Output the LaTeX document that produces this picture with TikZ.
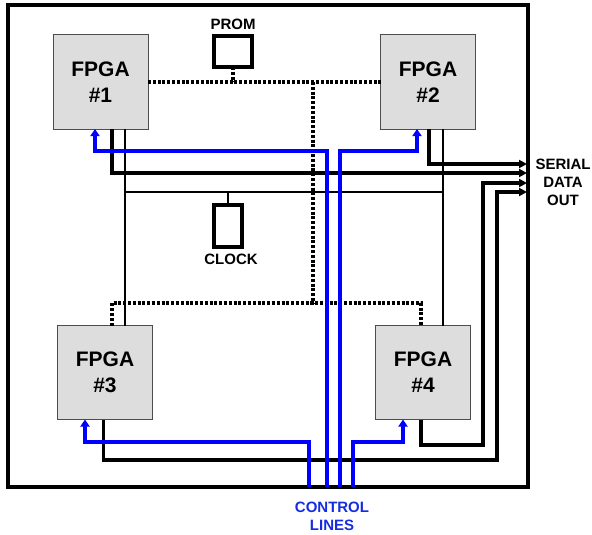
\documentclass[tikz,border=0pt]{standalone}
\usepackage{fontspec}
\setmainfont{Liberation Sans}
\usepackage{xcolor}
\usetikzlibrary{
    arrows.meta,
    positioning,
    calc
}
\definecolor{fpgagray}{RGB}{221, 221, 221}
\definecolor{ctrlblue}{RGB}{0, 0, 255}
\definecolor{textblue}{RGB}{20, 45, 225}

\begin{document}
\begin{tikzpicture}[
        x=1pt, y=-1pt,
        fpga/.style={draw=black!70, line width=1pt, fill=fpgagray, minimum width=95pt, minimum height=94pt, inner sep=0pt, outer sep=0pt, align=center, font=\fontsize{21}{26}\selectfont\bfseries},
        part/.style={draw, line width=3.2pt, fill=white, inner sep=0pt, outer sep=0pt},
        tag/.style={align=center, font=\fontsize{15}{18}\selectfont\bfseries},
        wire/.style={line width=2.8pt},
        bus/.style={line width=3.2pt, dash pattern=on 3pt off 1.8pt},
        dataout/.style={line width=3.3pt, -{Triangle[length=8pt, width=8pt]}},
        ctrl/.style={line width=4pt, ctrlblue, -{Triangle[length=7pt, width=9pt]}}
    ]
        % Page
        \useasboundingbox (0,0) rectangle (592,535);

        % Board
        \node[draw, line width=3.2pt, minimum width=520pt, minimum height=482pt, inner sep=0pt, outer sep=0pt] (board) at (268, 246) {};

        % FPGAs
        \node[fpga] (f1) at (100.5, 82) {FPGA\\\#1};
        \node[fpga] (f2) at (428, 82) {FPGA\\\#2};
        \node[fpga] (f3) at (105, 372.5) {FPGA\\\#3};
        \node[fpga] (f4) at (423, 372.5) {FPGA\\\#4};

        % PROM and clock
        \node[part, minimum width=38pt, minimum height=31pt] (prom) at (233, 51.5) {};
        \node[tag] (promlbl) at (233, 24) {PROM};
        \node[part, minimum width=28pt, minimum height=42pt] (clock) at (228, 226) {};
        \node[tag] (clocklbl) at (231, 259) {CLOCK};

        % Outside labels
        \node[tag] (serial) at (563, 182) {SERIAL\\DATA\\OUT};
        \node[tag, textblue] (ctrllbl) at (332, 516) {CONTROL\\LINES};

        % Junctions
        \coordinate (busx) at (313, 303);
        \coordinate (clkbus) at (228, 192);
        \coordinate (so1) at (527, 164);
        \coordinate (so2) at (527, 173);
        \coordinate (so3) at (527, 183);
        \coordinate (so4) at (527, 192);
        \coordinate (r4) at (483, 445);
        \coordinate (r3) at (497, 460);
        \coordinate (c1) at (309, 487);
        \coordinate (c2) at (327, 487);
        \coordinate (c3) at (340, 487);
        \coordinate (c4) at (353, 487);

        % PROM bus (dotted)
        \draw[bus] (f1.east) -- (f2.west);
        \draw[bus] (prom.south) -- (prom.south |- f1.east);
        \draw[bus] (f1.east -| busx) -- (busx);
        \draw[bus] ([xshift=7pt]f3.north) |- (busx) -| ([xshift=-2pt]f4.north);

        % Clock lines
        \draw[wire] ([xshift=24.5pt]f1.south) -- ([xshift=24.5pt]f1.south |- f3.north);
        \draw[wire] ([xshift=15pt]f2.south) -- ([xshift=15pt]f2.south |- f4.north);
        \draw[wire] ([xshift=24.5pt]f1.south |- clkbus) -- ([xshift=15pt]f2.south |- clkbus);
        \draw[wire] (clock.north) -- (clkbus);

        % Serial data out
        \draw[dataout] ([xshift=1pt]f2.south) |- (so1);
        \draw[dataout] ([xshift=11.5pt]f1.south) |- (so2);
        \draw[dataout] ([xshift=-2pt]f4.south) |- (r4) |- (so3);
        \draw[dataout] ([xshift=-1.5pt]f3.south) |- (r3) |- (so4);

        % Control lines
        \draw[ctrl] (c1) -- ++(0,-45) -| ([xshift=-20pt]f3.south);
        \draw[ctrl] (c2) -- ++(0,-336) -| ([xshift=-5.5pt]f1.south);
        \draw[ctrl] (c3) -- ++(0,-336) -| ([xshift=-11pt]f2.south);
        \draw[ctrl] (c4) -- ++(0,-45) -| ([xshift=-20pt]f4.south);
    \end{tikzpicture}
\end{document}
